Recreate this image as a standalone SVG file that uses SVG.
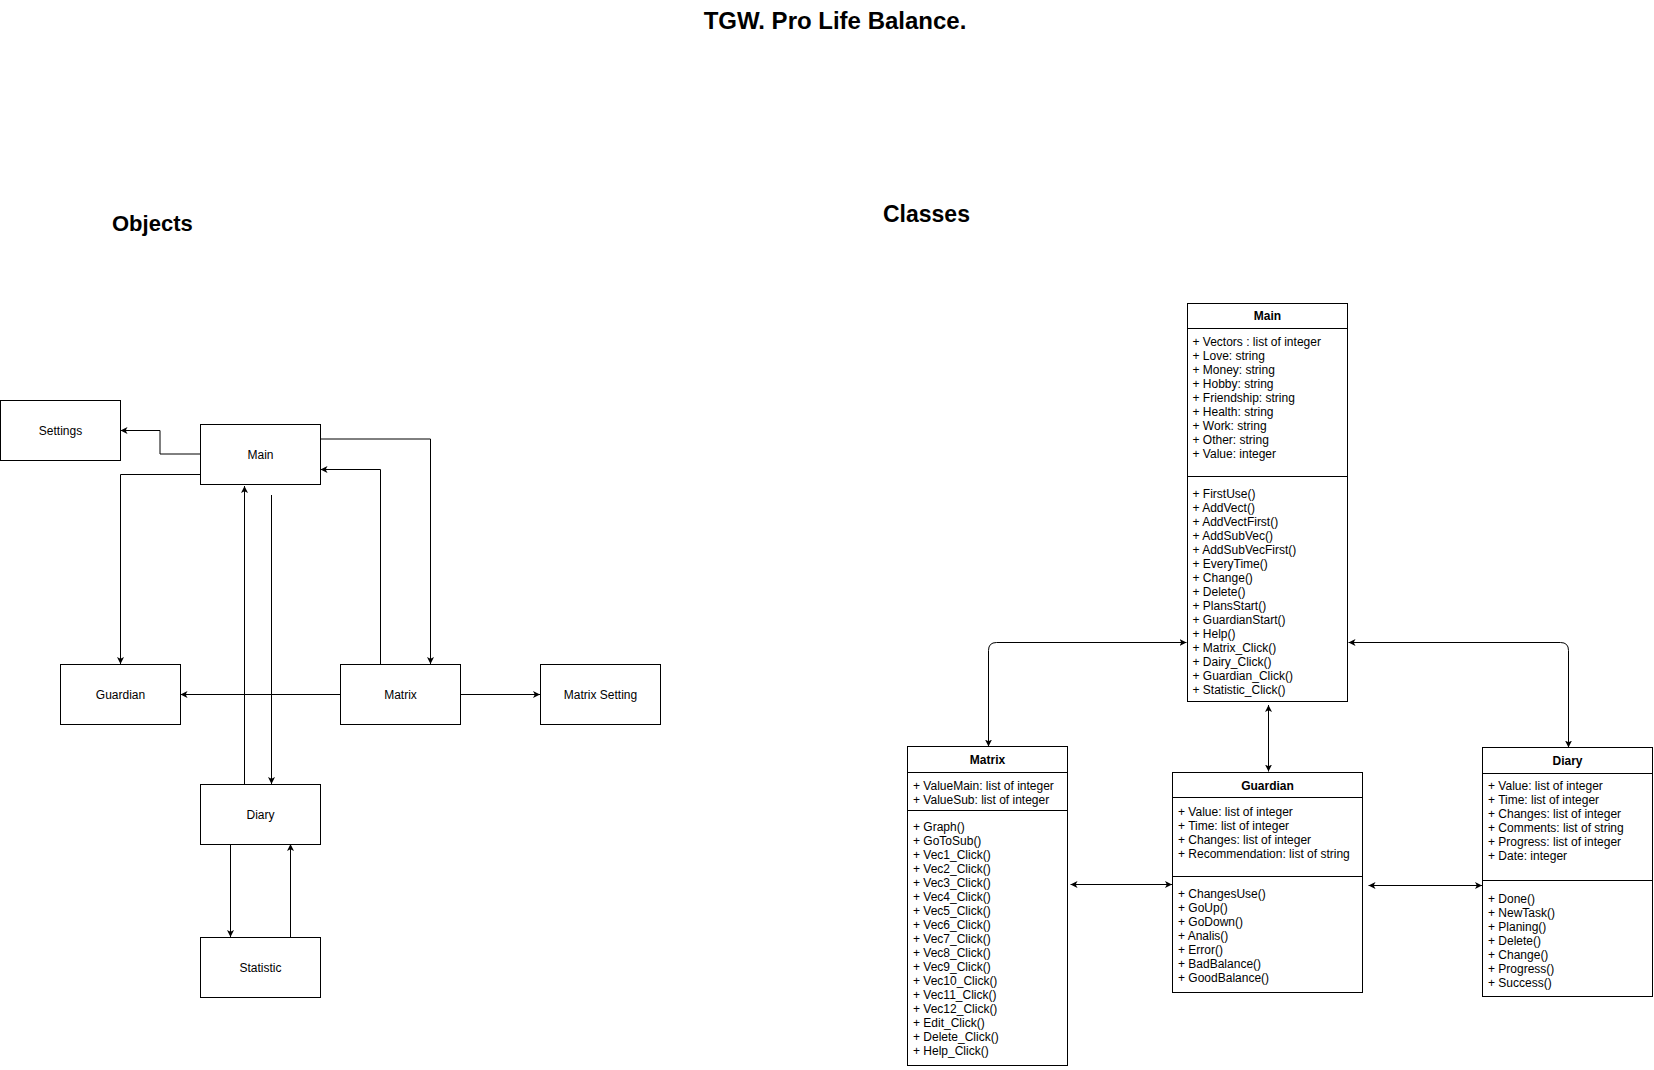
<svg xmlns="http://www.w3.org/2000/svg" width="1654" height="1070" viewBox="0 0 1654 1070">
<defs>
<style>
text{font-family:"Liberation Sans",Arial,Helvetica,sans-serif;fill:#000}
.h{font-weight:bold}
.t{font-size:12px}
.c{text-anchor:middle}
.box{fill:#fff;stroke:#000;stroke-width:1}
.ln{fill:none;stroke:#000;stroke-width:1}
.e{fill:none;stroke:#000;stroke-width:1;marker-end:url(#arr)}
.b{fill:none;stroke:#000;stroke-width:1;marker-end:url(#arr);marker-start:url(#arr)}
</style>
<marker id="arr" viewBox="0 0 7 7" refX="7" refY="3.5" markerWidth="7" markerHeight="7" markerUnits="userSpaceOnUse" orient="auto-start-reverse">
<path d="M0,0 L7,3.5 L0,7 L1.8,3.5 z" fill="#000"/>
</marker>
</defs>
<rect width="1654" height="1070" fill="#fff"/>

<text class="h c" x="835" y="29" font-size="24">TGW. Pro Life Balance.</text>
<text class="h" x="112" y="231" font-size="22">Objects</text>
<text class="h" x="883" y="222" font-size="23">Classes</text>

<g id="connectors">
<path class="e" d="M200,454 H160 V430.5 H120.5"/>
<path class="e" d="M200,474.5 H120.5 V664"/>
<path class="e" d="M320,439 H430.5 V664"/>
<path class="e" d="M380.5,664 V469.5 H320.5"/>
<path class="e" d="M340,694.5 H180.5"/>
<path class="e" d="M460,694.5 H540"/>
<path class="e" d="M244.5,784 V486"/>
<path class="e" d="M271.5,495 V784"/>
<path class="e" d="M230.5,844 V937"/>
<path class="e" d="M290.5,937 V844"/>

<path class="b" d="M1186.5,642.5 H996.5 Q988.5,642.5 988.5,650.5 V746.5"/>
<path class="b" d="M1348.5,642.5 H1560.5 Q1568.5,642.5 1568.5,650.5 V747.5"/>
<path class="b" d="M1268.5,705 V771.5"/>
<path class="b" d="M1070.5,884.5 H1172"/>
<path class="b" d="M1368.5,885.5 H1482"/>
</g>

<g id="obj-settings"><rect class="box" x="0.5" y="400.5" width="120" height="60"/><text class="t c" x="60.5" y="434.5">Settings</text></g>
<g id="obj-main"><rect class="box" x="200.5" y="424.5" width="120" height="60"/><text class="t c" x="260.5" y="458.5">Main</text></g>
<g id="obj-guardian"><rect class="box" x="60.5" y="664.5" width="120" height="60"/><text class="t c" x="120.5" y="698.5">Guardian</text></g>
<g id="obj-matrix"><rect class="box" x="340.5" y="664.5" width="120" height="60"/><text class="t c" x="400.5" y="698.5">Matrix</text></g>
<g id="obj-matrixsetting"><rect class="box" x="540.5" y="664.5" width="120" height="60"/><text class="t c" x="600.5" y="698.5">Matrix Setting</text></g>
<g id="obj-diary"><rect class="box" x="200.5" y="784.5" width="120" height="60"/><text class="t c" x="260.5" y="818.5">Diary</text></g>
<g id="obj-statistic"><rect class="box" x="200.5" y="937.5" width="120" height="60"/><text class="t c" x="260.5" y="971.5">Statistic</text></g>

<g id="cls-main">
<rect class="box" x="1187.5" y="303.5" width="160" height="398"/>
<path class="ln" d="M1187.5,328.5 H1347.5 M1187.5,476.5 H1347.5"/>
<text class="t h c" x="1267.5" y="320">Main</text>
<text class="t">
<tspan x="1192.5" y="346">+ Vectors : list of integer</tspan>
<tspan x="1192.5" y="360">+ Love: string</tspan>
<tspan x="1192.5" y="374">+ Money: string</tspan>
<tspan x="1192.5" y="388">+ Hobby: string</tspan>
<tspan x="1192.5" y="402">+ Friendship: string</tspan>
<tspan x="1192.5" y="416">+ Health: string</tspan>
<tspan x="1192.5" y="430">+ Work: string</tspan>
<tspan x="1192.5" y="444">+ Other: string</tspan>
<tspan x="1192.5" y="458">+ Value: integer</tspan>
</text>
<text class="t">
<tspan x="1192.5" y="498">+ FirstUse()</tspan>
<tspan x="1192.5" y="512">+ AddVect()</tspan>
<tspan x="1192.5" y="526">+ AddVectFirst()</tspan>
<tspan x="1192.5" y="540">+ AddSubVec()</tspan>
<tspan x="1192.5" y="554">+ AddSubVecFirst()</tspan>
<tspan x="1192.5" y="568">+ EveryTime()</tspan>
<tspan x="1192.5" y="582">+ Change()</tspan>
<tspan x="1192.5" y="596">+ Delete()</tspan>
<tspan x="1192.5" y="610">+ PlansStart()</tspan>
<tspan x="1192.5" y="624">+ GuardianStart()</tspan>
<tspan x="1192.5" y="638">+ Help()</tspan>
<tspan x="1192.5" y="652">+ Matrix_Click()</tspan>
<tspan x="1192.5" y="666">+ Dairy_Click()</tspan>
<tspan x="1192.5" y="680">+ Guardian_Click()</tspan>
<tspan x="1192.5" y="694">+ Statistic_Click()</tspan>
</text>
</g>

<g id="cls-matrix">
<rect class="box" x="907.5" y="746.5" width="160" height="319"/>
<path class="ln" d="M907.5,772.5 H1067.5 M907.5,810.5 H1067.5"/>
<text class="t h c" x="987.5" y="764">Matrix</text>
<text class="t">
<tspan x="913" y="790">+ ValueMain: list of integer</tspan>
<tspan x="913" y="804">+ ValueSub: list of integer</tspan>
</text>
<text class="t">
<tspan x="913" y="831">+ Graph()</tspan>
<tspan x="913" y="845">+ GoToSub()</tspan>
<tspan x="913" y="859">+ Vec1_Click()</tspan>
<tspan x="913" y="873">+ Vec2_Click()</tspan>
<tspan x="913" y="887">+ Vec3_Click()</tspan>
<tspan x="913" y="901">+ Vec4_Click()</tspan>
<tspan x="913" y="915">+ Vec5_Click()</tspan>
<tspan x="913" y="929">+ Vec6_Click()</tspan>
<tspan x="913" y="943">+ Vec7_Click()</tspan>
<tspan x="913" y="957">+ Vec8_Click()</tspan>
<tspan x="913" y="971">+ Vec9_Click()</tspan>
<tspan x="913" y="985">+ Vec10_Click()</tspan>
<tspan x="913" y="999">+ Vec11_Click()</tspan>
<tspan x="913" y="1013">+ Vec12_Click()</tspan>
<tspan x="913" y="1027">+ Edit_Click()</tspan>
<tspan x="913" y="1041">+ Delete_Click()</tspan>
<tspan x="913" y="1055">+ Help_Click()</tspan>
</text>
</g>

<g id="cls-guardian">
<rect class="box" x="1172.5" y="772.5" width="190" height="220"/>
<path class="ln" d="M1172.5,797.5 H1362.5 M1172.5,876.5 H1362.5"/>
<text class="t h c" x="1267.5" y="790">Guardian</text>
<text class="t">
<tspan x="1178" y="815.5">+ Value: list of integer</tspan>
<tspan x="1178" y="829.5">+ Time: list of integer</tspan>
<tspan x="1178" y="843.5">+ Changes: list of integer</tspan>
<tspan x="1178" y="857.5">+ Recommendation: list of string</tspan>
</text>
<text class="t">
<tspan x="1178" y="897.5">+ ChangesUse()</tspan>
<tspan x="1178" y="911.5">+ GoUp()</tspan>
<tspan x="1178" y="925.5">+ GoDown()</tspan>
<tspan x="1178" y="939.5">+ Analis()</tspan>
<tspan x="1178" y="953.5">+ Error()</tspan>
<tspan x="1178" y="967.5">+ BadBalance()</tspan>
<tspan x="1178" y="981.5">+ GoodBalance()</tspan>
</text>
</g>

<g id="cls-diary">
<rect class="box" x="1482.5" y="747.5" width="170" height="249"/>
<path class="ln" d="M1482.5,773.5 H1652.5 M1482.5,880.5 H1652.5"/>
<text class="t h c" x="1567.5" y="765">Diary</text>
<text class="t">
<tspan x="1488" y="790">+ Value: list of integer</tspan>
<tspan x="1488" y="804">+ Time: list of integer</tspan>
<tspan x="1488" y="818">+ Changes: list of integer</tspan>
<tspan x="1488" y="832">+ Comments: list of string</tspan>
<tspan x="1488" y="846">+ Progress: list of integer</tspan>
<tspan x="1488" y="860">+ Date: integer</tspan>
</text>
<text class="t">
<tspan x="1488" y="903">+ Done()</tspan>
<tspan x="1488" y="917">+ NewTask()</tspan>
<tspan x="1488" y="931">+ Planing()</tspan>
<tspan x="1488" y="945">+ Delete()</tspan>
<tspan x="1488" y="959">+ Change()</tspan>
<tspan x="1488" y="973">+ Progress()</tspan>
<tspan x="1488" y="987">+ Success()</tspan>
</text>
</g>
</svg>
